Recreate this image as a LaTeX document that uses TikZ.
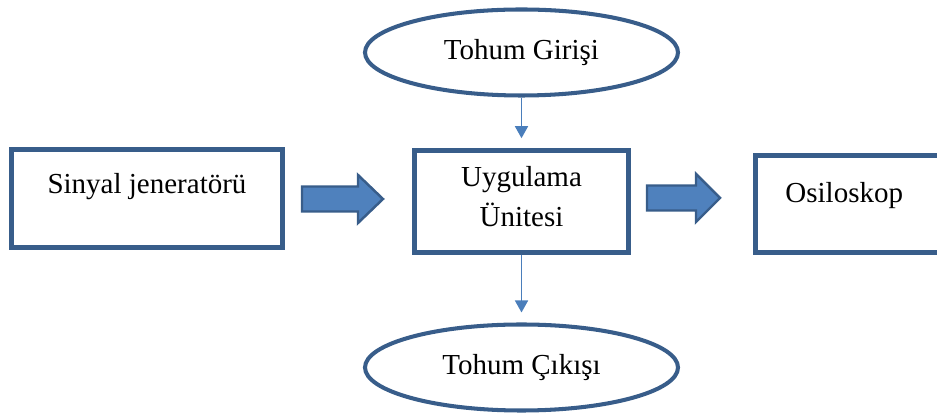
\documentclass[tikz,border=0pt]{standalone}
\usepackage{fontspec}
\setmainfont{Liberation Serif}
\usetikzlibrary{shapes.geometric,arrows.meta}
\definecolor{boxblue}{RGB}{56,93,138}
\definecolor{fillblue}{RGB}{79,129,189}
\definecolor{linkblue}{RGB}{74,126,187}
\begin{document}
\begin{tikzpicture}[
    font=\fontsize{16.5}{22.7}\selectfont,
    box/.style={draw=boxblue, line width=2.6pt, rectangle, inner sep=0pt},
    seed/.style={draw=boxblue, line width=2.3pt, ellipse, inner sep=0pt,
      minimum width=6.26cm, minimum height=1.72cm},
    fat/.style={fill=fillblue, draw=boxblue, line width=1.4pt},
    link/.style={draw=linkblue, line width=0.9pt,
      -{Triangle[width=0.26cm,length=0.24cm]}, shorten >=0.2cm}]
  \useasboundingbox (0,0) rectangle (18.74,8.38);
  \clip (0,0) rectangle (18.74,8.38);
  \draw
    (2.94,4.41) node[box, minimum width=5.42cm, minimum height=1.96cm] (gen){}
    (10.43,4.35) node[box, minimum width=4.28cm, minimum height=2.04cm] (app){}
    (17.06,4.30) node[box, minimum width=3.9cm, minimum height=1.94cm] (osc){}
    (10.43,7.33) node[seed] (in){Tohum Girişi}
    (10.43,1.03) node[seed] (out){Tohum Çıkışı};
  \node (gentext) at ([yshift=0.24cm]gen.center) {Sinyal jeneratörü};
  \node[align=center] (apptext) at ([yshift=0.09cm]app.center) {Uygulama\\Ünitesi};
  \node (osctext) at ([xshift=1.82cm,yshift=0.16cm]osc.west) {Osiloskop};
  % block arrows
  \draw[fat] (6.04,4.15) -- (7.16,4.15) -- (7.16,3.92) -- (7.66,4.40)
    -- (7.16,4.88) -- (7.16,4.65) -- (6.04,4.65) -- cycle;
  \draw[fat] (12.94,4.17) -- (13.92,4.17) -- (13.92,3.94) -- (14.40,4.42)
    -- (13.92,4.90) -- (13.92,4.67) -- (12.94,4.67) -- cycle;
  \begin{scope}
    \draw[link] (in.south) to (app.north);
    \draw[link] (app.south) to (out.north);
  \end{scope}
\end{tikzpicture}
\end{document}
